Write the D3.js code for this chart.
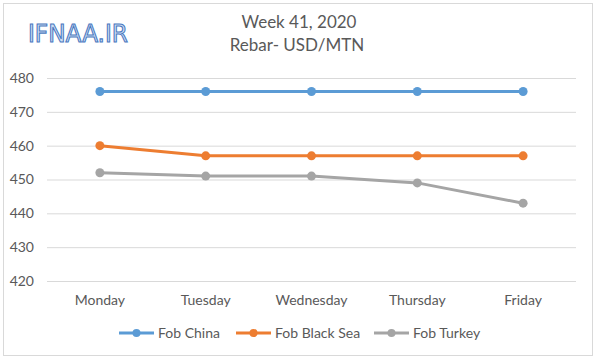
<!DOCTYPE html>
<html><head><meta charset="utf-8">
<script src="https://cdn.jsdelivr.net/npm/d3@7"></script>
<style>body{margin:0;background:#fff;}svg{display:block;}svg text{font-family:Lato,"Open Sans",sans-serif;}</style>
</head><body><svg id="c" width="600" height="360"></svg>
<script>
const days = ["Monday","Tuesday","Wednesday","Thursday","Friday"];
const seriesNames = ["Fob China","Fob Black Sea","Fob Turkey"];
const china = [476,476,476,476,476];
const blackSea = [460,457,457,457,457];
const turkey = [452,451,451,449,443];
const yTicks = [420,430,440,450,460,470,480];
const colors = ["#5b9bd5","#ed7d31","#a5a5a5"];
const seriesValues = [china, blackSea, turkey];

const svg = d3.select("#c");
svg.append("rect").attr("x",3.5).attr("y",3.5).attr("width",589).attr("height",352)
  .attr("fill","#fff").attr("stroke","#d9d9d9");

const x = d3.scaleBand().domain(days).range([47,576]);
const y = d3.scaleLinear().domain([420,480]).range([281,78]);

svg.append("g").selectAll("line").data(yTicks).join("line")
  .attr("x1",47).attr("x2",576).attr("y1",d=>y(d)+0.5).attr("y2",d=>y(d)+0.5)
  .attr("stroke","#d9d9d9").attr("stroke-width",1);

const ya = svg.append("g").attr("transform","translate(34,0)")
  .call(d3.axisLeft(y).tickValues(yTicks).tickSize(0).tickPadding(0));
ya.select(".domain").remove();
ya.attr("font-family",null);
ya.selectAll("text").attr("fill","#595959").style("font-size","14px");

const xa = svg.append("g").attr("transform","translate(0,290)")
  .call(d3.axisBottom(x).tickSize(0).tickPadding(5));
xa.select(".domain").remove();
xa.attr("font-family",null);
xa.selectAll("text").attr("fill","#595959").style("font-size","14px");

const line = d3.line().x((d,i)=>x(days[i])+x.bandwidth()/2).y(d=>y(d));
seriesValues.forEach((vals,k)=>{
  svg.append("path").datum(vals).attr("d",line).attr("fill","none")
    .attr("stroke",colors[k]).attr("stroke-width",3).attr("stroke-linejoin","round");
  svg.append("g").selectAll("circle").data(vals).join("circle")
    .attr("cx",(d,i)=>x(days[i])+x.bandwidth()/2).attr("cy",d=>y(d)).attr("r",4.5)
    .attr("fill",colors[k]);
});

svg.append("text").attr("x",299).attr("y",28).attr("text-anchor","middle")
  .attr("fill","#595959").style("font-size","17px").text("Week 41, 2020");
svg.append("text").attr("x",297).attr("y",51).attr("text-anchor","middle")
  .attr("fill","#595959").style("font-size","17px").text("Rebar- USD/MTN");

svg.append("text").attr("x",28).attr("y",42).attr("fill","#cfe0f5")
  .attr("stroke","#4a78bf").attr("stroke-width",1.1)
  .attr("textLength",100).attr("lengthAdjust","spacingAndGlyphs")
  .style("font-size","25px").style("font-family","'DejaVu Sans',sans-serif")
  .text("IFNAA.IR");

const legX = [119,236,374];
seriesNames.forEach((n,k)=>{
  const g = svg.append("g").attr("transform",`translate(${legX[k]},333)`);
  g.append("line").attr("x1",0).attr("x2",35).attr("y1",0).attr("y2",0)
    .attr("stroke",colors[k]).attr("stroke-width",3);
  g.append("circle").attr("cx",17.5).attr("cy",0).attr("r",4).attr("fill",colors[k]);
  g.append("text").attr("x",39).attr("y",5).attr("fill","#595959").style("font-size","14px").text(n);
});
</script></body></html>
